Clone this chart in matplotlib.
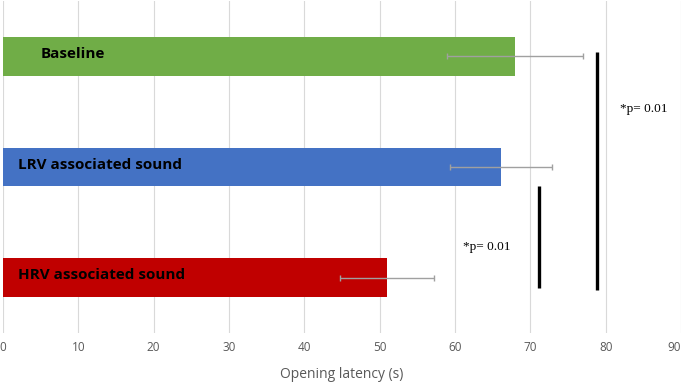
import numpy as np
import matplotlib.pyplot as plt

# Data
conditions = ['Baseline', 'LRV associated sound', 'HRV associated sound']
latency = [68, 66.1, 51]
errors = [9, 6.8, 6.2]
colors = ['#70AD47', '#4472C4', '#C00000']
label_x = [5, 2, 2]

# significance brackets: x value, y from, y to (category units), text pos
sig_x = [78.9, 71.1]
sig_y = [(-0.04, 2.11), (1.17, 2.09)]
sig_text = ['*p= 0.01', '*p= 0.01']
sig_text_pos = [(81.9, 0.48), (61.1, 1.72)]

fig = plt.figure(figsize=(6.85, 3.83), dpi=100)
ax = fig.add_axes([3 / 685, 1 - 333 / 383, 678 / 685, 332 / 383])

y = np.arange(len(conditions))
ax.barh(y, latency, height=0.35, color=colors, zorder=2)
ax.errorbar(latency, y, xerr=errors, fmt='none', ecolor='#A0A0A0',
            elinewidth=1, capsize=2, capthick=1, zorder=3)

for yi, name, lx in zip(y, conditions, label_x):
    ax.text(lx, yi - 0.02, name, fontsize=11, fontweight='bold',
            family='Open Sans', va='center', ha='left', color='black',
            zorder=4)

for sx, (y0, y1) in zip(sig_x, sig_y):
    ax.plot([sx, sx], [y0, y1], color='black', lw=2.4, zorder=4,
            solid_capstyle='butt')
for t, (tx, ty) in zip(sig_text, sig_text_pos):
    ax.text(tx, ty, t, fontsize=9.5, family='Liberation Serif',
            va='center', ha='left')

ax.set_xlim(0, 90)
ax.set_ylim(2.5, -0.5)
ax.set_xticks(np.arange(0, 91, 10))
ax.set_yticks([])
ax.grid(axis='x', color='#D9D9D9', lw=0.8, zorder=0)
for s in ax.spines.values():
    s.set_visible(False)
ax.tick_params(axis='x', length=0, pad=6, labelsize=8.5, labelcolor='#595959')
for lbl in ax.get_xticklabels():
    lbl.set_family('Open Sans')
ax.get_xticklabels()[-1].set_ha('right')
ax.set_xlabel('Opening latency (s)', fontsize=10, color='#595959',
              family='Open Sans', labelpad=9)

fig.savefig('out.png', dpi=100)
